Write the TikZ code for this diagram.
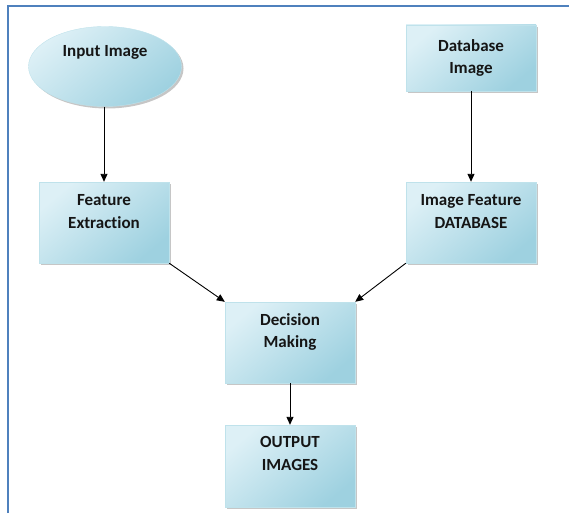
\documentclass[tikz,border=0pt]{standalone}
\usepackage{fontspec}
\setmainfont{Carlito}[Ligatures=NoCommon]
\usetikzlibrary{shapes.geometric,shadows,arrows.meta}
\definecolor{frameblue}{HTML}{4F81BD}
\definecolor{lightfill}{HTML}{DDF0F6}
\definecolor{darkfill}{HTML}{9ED1E0}
\definecolor{edgefill}{HTML}{BFE2EB}
\definecolor{txt}{HTML}{151515}
\newcommand{\tb}[2]{\parbox[t][#1][t]{126pt}{\centering #2}}
\begin{document}
\begin{tikzpicture}[x=1pt,y=-1pt,
  lbl/.style={font=\bfseries\fontsize{17}{22.5}\selectfont, text=txt},
  shade/.style={top color=lightfill, bottom color=darkfill, shading angle=40,
    draw=edgefill, line width=0.4pt,
    drop shadow={shadow xshift=2pt, shadow yshift=-2pt, fill=black!50, opacity=0.45}},
  procbox/.style={lbl, shade, rectangle, minimum width=130pt, minimum height=81pt, inner sep=0pt},
  oval/.style={lbl, shade, ellipse, minimum width=153pt, minimum height=80pt, inner sep=0pt, text height=11pt, text depth=30pt},
  arr/.style={-{Triangle[length=8pt,width=7pt]}, line width=0.9pt, black}]
\useasboundingbox (0,0) rectangle (569,513);
\draw[frameblue, line width=2pt] (8,513) -- (8,6) -- (569,6);

\node[oval] (in) at (105,66.5) {Input Image};
\node[procbox, minimum height=66pt] (db) at (471,58) {\tb{37pt}{Database\\Image}};
\node[procbox] (fe) at (104,222.5) {\tb{56pt}{Feature\\Extraction}};
\node[procbox] (ifd) at (471,222.5) {\tb{56pt}{Image Feature\\DATABASE}};
\node[procbox] (dm) at (290,342.5) {\tb{58pt}{Decision\\Making}};
\node[procbox, minimum height=82pt] (out) at (290,466) {\tb{59pt}{OUTPUT\\IMAGES}};

\draw[arr] (fe.north |- in.south) -- (fe.north);
\draw[arr] (db.south) -- (ifd.north);
\draw[arr] (fe.south east) -- (dm.north west);
\draw[arr] (ifd.south west) -- (dm.north east);
\draw[arr] (dm.south) -- (out.north);
\end{tikzpicture}
\end{document}
